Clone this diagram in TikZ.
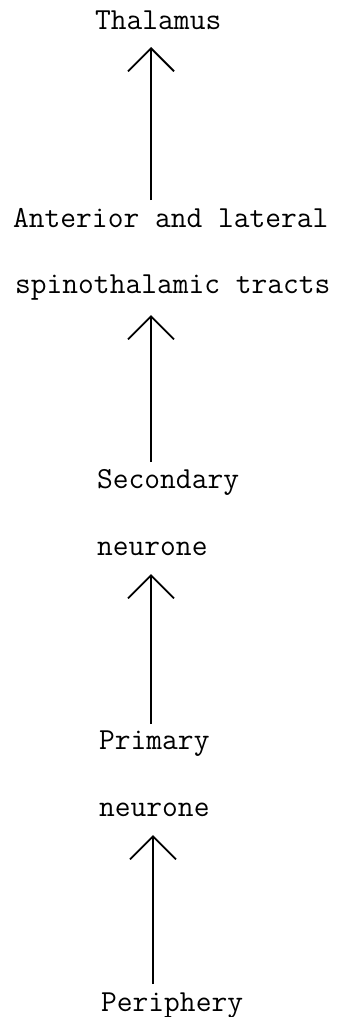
\documentclass[tikz,border=0pt]{standalone}
\usepackage{fontspec}
\usetikzlibrary{arrows.meta}
\begin{document}
\begin{tikzpicture}[x=1pt,y=-1pt,
  label/.style={anchor=base west,inner sep=0pt,font=\ttfamily\fontsize{30.6}{34}\selectfont},
  upflow/.style={line width=1.3pt,-{Straight Barb[length=23pt,width=46pt,line width=1.8pt]}}]
  \useasboundingbox (0,0) rectangle (343,1017);
  % stages of the pathway, bottom to top
  \node[label] (thal) at (95,29)   {Thalamus};
  \node[label] (ant)  at (13,227)  {Anterior and lateral};
  \node[label] (spin) at (15,293)  {spinothalamic tracts};
  \node[label] (sec)  at (97,488)  {Secondary};
  \node[label] (secn) at (97,555)  {neurone};
  \node[label] (pri)  at (99,749)  {Primary};
  \node[label] (prin) at (99,816)  {neurone};
  \node[label] (peri) at (101,1011) {Periphery};
  % arrow ends
  \coordinate (t1) at (151,47);  \coordinate (b1) at (151,200);
  \coordinate (t2) at (151,315); \coordinate (b2) at (151,462);
  \coordinate (t3) at (151,574); \coordinate (b3) at (151,724);
  \coordinate (t4) at (153,835); \coordinate (b4) at (153,984);
  \draw[upflow] (b1) -- (t1);
  \draw[upflow] (b2) -- (t2);
  \draw[upflow] (b3) -- (t3);
  \draw[upflow] (b4) -- (t4);
\end{tikzpicture}
\end{document}
